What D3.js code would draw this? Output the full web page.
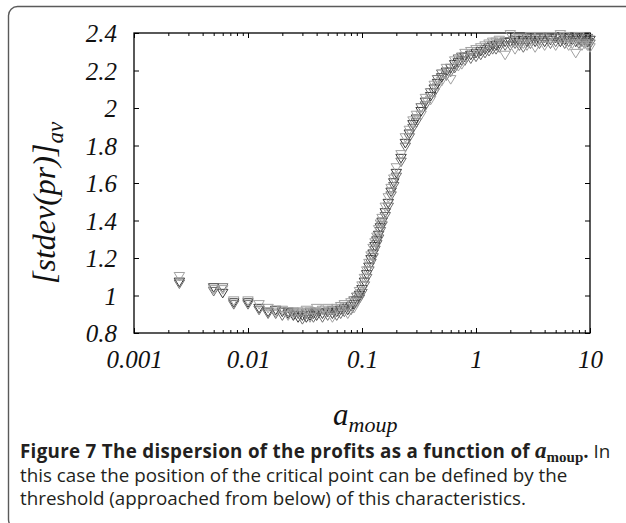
<!DOCTYPE html>
<html>
<head>
<meta charset="utf-8">
<script src="https://cdn.jsdelivr.net/npm/d3@7"></script>
<style>
  body { margin: 0; background: #fff; }
  svg { display: block; }
</style>
</head>
<body>
<svg id="chart" width="626" height="523"></svg>
<script>
// a_moup values (log axis)
const aMoup = [0.0025, 0.005, 0.006, 0.0075, 0.01, 0.0125, 0.015, 0.0175, 0.02, 0.0225,
  0.025, 0.0275, 0.03, 0.0325, 0.035, 0.0375, 0.04, 0.045, 0.05, 0.055,
  0.06, 0.065, 0.07, 0.075, 0.08, 0.085, 0.09, 0.095, 0.1, 0.105,
  0.11, 0.115, 0.12, 0.125, 0.13, 0.135, 0.14, 0.145, 0.15, 0.16,
  0.17, 0.18, 0.19, 0.2, 0.22, 0.24, 0.26, 0.28, 0.3, 0.33,
  0.36, 0.4, 0.43, 0.46, 0.5, 0.55, 0.6, 0.65, 0.7, 0.75,
  0.8, 0.9, 1.0, 1.1, 1.2, 1.3, 1.4, 1.5, 1.6, 1.8,
  2.0, 2.2, 2.4, 2.6, 2.8, 3.0, 3.3, 3.6, 4.0, 4.5,
  5.0, 5.5, 6.0, 6.5, 7.0, 7.5, 8.0, 8.5, 9.0, 9.5, 10.0];

// [stdev(pr)]_av, three runs
const runA = [1.07, 1.04, 1.01, 0.96, 0.96, 0.93, 0.91, 0.92, 0.91, 0.90,
  0.89, 0.88, 0.89, 0.88, 0.89, 0.90, 0.89, 0.90, 0.91, 0.90,
  0.91, 0.92, 0.93, 0.92, 0.94, 0.95, 0.97, 1.00, 1.03, 1.07,
  1.11, 1.15, 1.19, 1.22, 1.26, 1.29, 1.32, 1.36, 1.39, 1.44,
  1.49, 1.55, 1.60, 1.65, 1.73, 1.81, 1.86, 1.91, 1.94, 1.98,
  2.03, 2.06, 2.10, 2.13, 2.16, 2.19, 2.21, 2.23, 2.24, 2.25,
  2.27, 2.28, 2.29, 2.30, 2.31, 2.32, 2.33, 2.33, 2.34, 2.35,
  2.35, 2.36, 2.35, 2.36, 2.35, 2.36, 2.35, 2.36, 2.35, 2.36,
  2.37, 2.35, 2.36, 2.37, 2.36, 2.35, 2.36, 2.37, 2.36, 2.35, 2.36];
const runB = [1.06, 1.02, 1.04, 0.95, 0.95, 0.92, 0.90, 0.90, 0.89, 0.91,
  0.91, 0.90, 0.87, 0.90, 0.91, 0.88, 0.91, 0.88, 0.89, 0.92,
  0.89, 0.90, 0.91, 0.94, 0.92, 0.97, 0.99, 0.98, 1.01, 1.05,
  1.09, 1.13, 1.17, 1.20, 1.24, 1.27, 1.30, 1.34, 1.37, 1.42,
  1.47, 1.53, 1.58, 1.63, 1.71, 1.79, 1.84, 1.89, 1.92, 2.00,
  2.01, 2.08, 2.08, 2.15, 2.18, 2.17, 2.19, 2.21, 2.26, 2.27,
  2.25, 2.26, 2.27, 2.28, 2.29, 2.30, 2.31, 2.31, 2.32, 2.33,
  2.33, 2.34, 2.33, 2.32, 2.37, 2.34, 2.37, 2.34, 2.37, 2.34,
  2.35, 2.37, 2.34, 2.35, 2.38, 2.37, 2.34, 2.35, 2.38, 2.37, 2.34];
const runC = [1.10, 1.03, 1.03, 0.97, 0.97, 0.95, 0.93, 0.91, 0.92, 0.89,
  0.90, 0.91, 0.91, 0.92, 0.88, 0.91, 0.93, 0.92, 0.93, 0.88,
  0.93, 0.94, 0.95, 0.90, 0.96, 0.93, 0.96, 1.02, 1.05, 1.09,
  1.13, 1.17, 1.21, 1.25, 1.28, 1.31, 1.35, 1.38, 1.41, 1.47,
  1.52, 1.57, 1.62, 1.68, 1.75, 1.84, 1.88, 1.93, 1.96, 1.96,
  2.05, 2.04, 2.12, 2.11, 2.14, 2.21, 2.15, 2.25, 2.22, 2.23,
  2.29, 2.30, 2.31, 2.32, 2.33, 2.34, 2.35, 2.35, 2.36, 2.28,
  2.39, 2.31, 2.37, 2.34, 2.33, 2.38, 2.32, 2.38, 2.33, 2.38,
  2.33, 2.39, 2.38, 2.33, 2.34, 2.29, 2.38, 2.33, 2.34, 2.33, 2.32];

const runs = [
  {values: runA, color: '#3a3a3a'},
  {values: runB, color: '#6e6e6e'},
  {values: runC, color: '#a0a0a0'},
];

const xMajor = [0.001, 0.01, 0.1, 1, 10];
const yTicks = [0.8, 1, 1.2, 1.4, 1.6, 1.8, 2, 2.2, 2.4];

const svg = d3.select('#chart');
const W = 626, H = 523;
const plot = {left: 134, right: 590, top: 33, bottom: 333};

svg.append('rect').attr('width', W).attr('height', H).attr('fill', '#fff');

// rounded figure frame
svg.append('rect')
  .attr('x', 8.5).attr('y', 6.5)
  .attr('width', 640).attr('height', 522)
  .attr('rx', 9)
  .attr('fill', 'none')
  .attr('stroke', '#5a5a5a')
  .attr('stroke-width', 1.4);

const x = d3.scaleLog().domain([0.001, 10]).range([plot.left, plot.right]);
const y = d3.scaleLinear().domain([0.8, 2.4]).range([plot.bottom, plot.top]);

const minor = [];
for (let d = 0.001; d < 10; d *= 10) {
  for (let k = 2; k <= 9; k++) minor.push(d * k);
}

const serif = '"Liberation Serif", "Times New Roman", serif';
const sans = '"Open Sans", "Noto Sans", sans-serif';

function styleAxis(g) {
  g.select('.domain').remove();
  g.selectAll('line').attr('stroke', '#000').attr('stroke-width', 1);
}
function styleLabels(g) {
  g.selectAll('text')
    .style('font-family', serif).style('font-style', 'italic')
    .style('font-size', '25px').attr('fill', '#111');
}

// x axes (bottom with labels, top mirrored)
svg.append('g')
  .attr('transform', `translate(0,${plot.bottom})`)
  .call(d3.axisBottom(x).tickValues(xMajor).tickSize(-5)
    .tickFormat(d => d3.format('~g')(d)))
  .call(styleAxis)
  .call(styleLabels)
  .call(g => g.selectAll('text').attr('dy', 0).attr('y', 35));
svg.append('g')
  .attr('transform', `translate(0,${plot.bottom})`)
  .call(d3.axisBottom(x).tickValues(minor).tickSize(-3).tickFormat(''))
  .call(styleAxis);
svg.append('g')
  .attr('transform', `translate(0,${plot.top})`)
  .call(d3.axisTop(x).tickValues(xMajor).tickSize(-5).tickFormat(''))
  .call(styleAxis);
svg.append('g')
  .attr('transform', `translate(0,${plot.top})`)
  .call(d3.axisTop(x).tickValues(minor).tickSize(-3).tickFormat(''))
  .call(styleAxis);

// y axes
svg.append('g')
  .attr('transform', `translate(${plot.left},0)`)
  .call(d3.axisLeft(y).tickValues(yTicks).tickSize(-5).tickPadding(17)
    .tickFormat(d => d3.format('~g')(d)))
  .call(styleAxis)
  .call(styleLabels)
  .call(g => g.selectAll('text').attr('dy', '0.34em'));
svg.append('g')
  .attr('transform', `translate(${plot.right},0)`)
  .call(d3.axisRight(y).tickValues(yTicks).tickSize(-5).tickFormat(''))
  .call(styleAxis);

// plot frame
svg.append('rect')
  .attr('x', plot.left).attr('y', plot.top)
  .attr('width', plot.right - plot.left).attr('height', plot.bottom - plot.top)
  .attr('fill', 'none').attr('stroke', '#000').attr('stroke-width', 1.3);

// downward open triangle
const triDown = {
  draw(ctx, size) {
    const w = Math.sqrt(size) * 0.55, h = Math.sqrt(size) * 0.45;
    ctx.moveTo(-w, -h);
    ctx.lineTo(w, -h);
    ctx.lineTo(0, h);
    ctx.closePath();
  }
};
const sym = d3.symbol().type(triDown).size(90);

runs.forEach(run => {
  svg.append('g')
    .selectAll('path')
    .data(aMoup.map((a, i) => [a, run.values[i]]))
    .join('path')
    .attr('d', sym)
    .attr('transform', d => `translate(${x(d[0])},${y(d[1])})`)
    .attr('fill', 'none')
    .attr('stroke', run.color)
    .attr('stroke-width', 1);
});

// axis titles
const xl = svg.append('text')
  .attr('x', 333).attr('y', 425)
  .style('font-family', serif).style('font-style', 'italic')
  .style('font-size', '31px').attr('fill', '#111');
xl.append('tspan').text('a');
xl.append('tspan').attr('dy', 7).style('font-size', '22px').text('moup');

const yl = svg.append('text')
  .attr('transform', 'translate(55,284) rotate(-90)')
  .style('font-family', serif).style('font-style', 'italic')
  .style('font-size', '32px').attr('fill', '#111');
yl.append('tspan').text('[stdev(pr)]');
yl.append('tspan').attr('dy', 8).style('font-size', '23px').text('av');

// caption
const cap = svg.append('g').style('font-family', sans).style('font-size', '18.8px').attr('fill', '#231f20');
const l1 = cap.append('text').attr('x', 20).attr('y', 458);
l1.append('tspan').style('font-weight', 'bold').style('letter-spacing', '0.3px')
  .text('Figure 7 The dispersion of the profits as a function of ');
l1.append('tspan').style('font-family', serif).style('font-style', 'italic').style('font-weight', 'bold')
  .style('font-size', '23px').text('a');
l1.append('tspan').style('font-family', serif).style('font-weight', 'bold')
  .style('font-size', '15px').attr('dy', 4).text('moup');
l1.append('tspan').style('font-weight', 'bold').attr('dy', -4).text('. ');
l1.append('tspan').text('In');
cap.append('text').attr('x', 20).attr('y', 482)
  .text('this case the position of the critical point can be defined by the');
cap.append('text').attr('x', 20).attr('y', 505)
  .text('threshold (approached from below) of this characteristics.');
</script>
</body>
</html>
